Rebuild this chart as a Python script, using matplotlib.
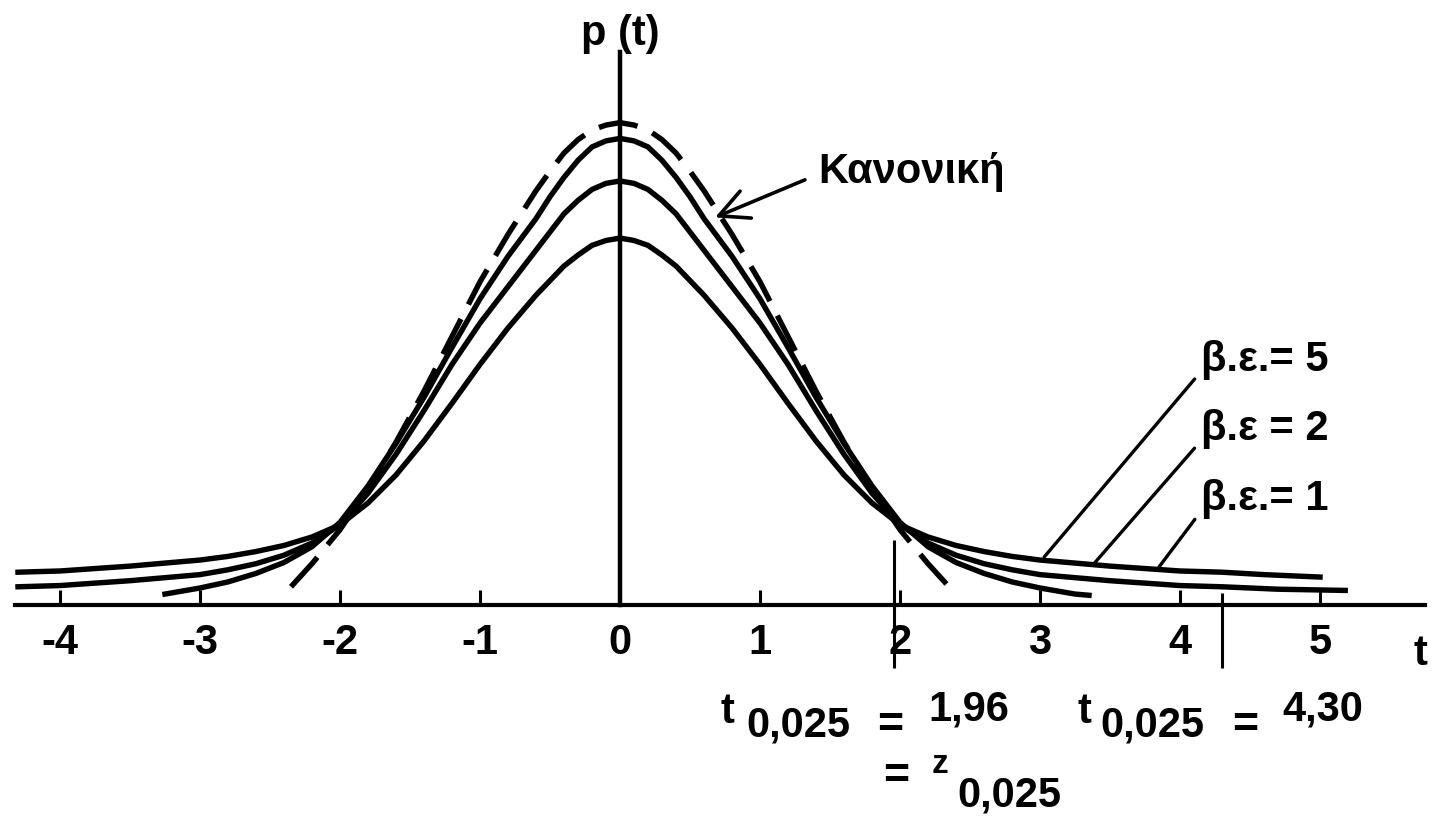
import numpy as np
import matplotlib
matplotlib.use("Agg")
import matplotlib.pyplot as plt

plt.rcParams['font.family'] = ['Liberation Sans', 'DejaVu Sans']
plt.rcParams['font.weight'] = 'bold'

# right half of every curve (t >= 0); the left half is the mirror, cut at *_left
t_norm = [0, 0.1, 0.2, 0.3, 0.4, 0.5, 0.6, 0.8, 1.0, 1.2, 1.4, 1.6, 1.8, 2.0, 2.2, 2.35, 2.4]
p_norm = [0.397, 0.395, 0.391, 0.383, 0.372, 0.357, 0.341, 0.305, 0.266, 0.221, 0.176, 0.134, 0.096, 0.062, 0.034, 0.015, 0.012]
norm_left = 2.35

t_df5 = [0, 0.1, 0.2, 0.3, 0.4, 0.5, 0.6, 0.8, 1.0, 1.2, 1.4, 1.6, 1.8, 2.0, 2.2, 2.4, 2.6, 2.8, 3.0, 3.25, 3.35]
p_df5 = [0.384, 0.382, 0.377, 0.366, 0.352, 0.336, 0.318, 0.287, 0.252, 0.212, 0.171, 0.133, 0.098, 0.068, 0.048, 0.035, 0.026, 0.019, 0.014, 0.009, 0.008]
df5_left = 3.25

t_df2 = [0, 0.1, 0.2, 0.3, 0.4, 0.5, 0.6, 0.8, 1.0, 1.2, 1.4, 1.6, 1.8, 2.0, 2.2, 2.4, 2.6, 2.8, 3.0, 3.5, 4.0, 4.3, 4.7, 5.18]
p_df2 = [0.349, 0.347, 0.342, 0.333, 0.322, 0.307, 0.292, 0.262, 0.232, 0.198, 0.160, 0.124, 0.092, 0.066, 0.051, 0.041, 0.034, 0.029, 0.025, 0.020, 0.016, 0.015, 0.013, 0.012]
df2_left = 4.3

t_df1 = [0, 0.1, 0.2, 0.3, 0.4, 0.5, 0.6, 0.8, 1.0, 1.2, 1.4, 1.6, 1.8, 2.0, 2.2, 2.4, 2.6, 2.8, 3.0, 3.5, 4.0, 4.3, 4.6, 5.0]
p_df1 = [0.302, 0.300, 0.296, 0.288, 0.279, 0.267, 0.255, 0.228, 0.198, 0.166, 0.135, 0.107, 0.084, 0.066, 0.056, 0.049, 0.044, 0.040, 0.037, 0.032, 0.028, 0.027, 0.025, 0.023]
df1_left = 4.3

ticks = [-4, -3, -2, -1, 0, 1, 2, 3, 4, 5]
tick_labels = ['-4', '-3', '-2', '-1', '0', '1', '2', '3', '4', '5']

crit_t = [1.96, 4.30]
crit_top = [0.0535, 0.010]

df_labels = ['β.ε.= 5', 'β.ε = 2', 'β.ε.= 1']


def mirror(t_half, p_half, left_end):
    t = np.array(t_half)
    p = np.array(p_half)
    keep = (t > 0) & (t <= left_end + 1e-9)
    return np.r_[-t[keep][::-1], t], np.r_[p[keep][::-1], p]


fig = plt.figure(figsize=(14.34, 8.26), dpi=100)
ax = fig.add_axes([0, 0, 1, 1])
ax.set_xlim(-620 / 140, 814 / 140)
ax.set_ylim(-221 / 1215, 605 / 1215)

lw = 3.9
for th, ph, left in [(t_df1, p_df1, df1_left), (t_df2, p_df2, df2_left), (t_df5, p_df5, df5_left)]:
    x, y = mirror(th, ph, left)
    ax.plot(x, y, color='black', lw=lw, solid_joinstyle='round')
x, y = mirror(t_norm, p_norm, norm_left)
ax.plot(x, y, color='black', lw=lw, dashes=(7.3, 3.0))

# axes through the origin
for s in ['top', 'right']:
    ax.spines[s].set_visible(False)
ax.spines['bottom'].set_position(('data', 0))
ax.spines['bottom'].set_bounds(-4.32, 5.75)
ax.spines['bottom'].set_linewidth(3.0)
ax.spines['left'].set_position(('data', 0))
ax.spines['left'].set_bounds(0, 0.4555)
ax.spines['left'].set_linewidth(3.2)
ax.set_yticks([])
ax.set_xticks(ticks)
ax.set_xticklabels(tick_labels)
ax.tick_params(axis='x', direction='in', length=11, width=2.2, pad=13, labelsize=30)

ax.vlines(crit_t, crit_top, -0.052, color='black', lw=2.2)

ax.text(0, 0.461, 'p (t)', ha='center', va='baseline', fontsize=30)
ax.text(5.714, -0.049, 't', ha='center', va='baseline', fontsize=30)

ax.annotate('Κανονική', xy=(0.679, 0.319), xytext=(1.414, 0.347),
            ha='left', va='baseline', fontsize=30,
            arrowprops=dict(arrowstyle='->,head_length=0.7,head_width=0.35', lw=2.6,
                            color='black', relpos=(0, 0.45), shrinkA=8, shrinkB=0))

label_y = [0.193, 0.136, 0.078]
leader_end = [(3.03, 0.0395), (3.39, 0.0346), (3.85, 0.0313)]
for lab, ly, end in zip(df_labels, label_y, leader_end):
    ax.annotate(lab, xy=end, xytext=(4.15, ly), ha='left', va='baseline', fontsize=30,
                arrowprops=dict(arrowstyle='-', lw=2.4, color='black',
                                relpos=(0, 0.2), shrinkA=4, shrinkB=0))

# critical values under the axis
fs = 30
ax.text(0.721, -0.0971, 't', fontsize=fs, va='baseline')
ax.text(0.90, -0.1086, '0,025', fontsize=fs, va='baseline')
ax.text(1.84, -0.1086, '=', fontsize=32, va='baseline')
ax.text(2.2, -0.0947, '1,96', fontsize=fs, va='baseline')

ax.text(3.271, -0.0971, 't', fontsize=fs, va='baseline')
ax.text(3.43, -0.1086, '0,025', fontsize=fs, va='baseline')
ax.text(4.37, -0.1086, '=', fontsize=32, va='baseline')
ax.text(4.729, -0.0947, '4,30', fontsize=fs, va='baseline')

ax.text(1.876, -0.1506, '=', fontsize=32, va='baseline')
ax.text(2.229, -0.1383, 'z', fontsize=24, va='baseline')
ax.text(2.407, -0.166, '0,025', fontsize=fs, va='baseline')

fig.savefig('out.png', dpi=100, facecolor='white')
